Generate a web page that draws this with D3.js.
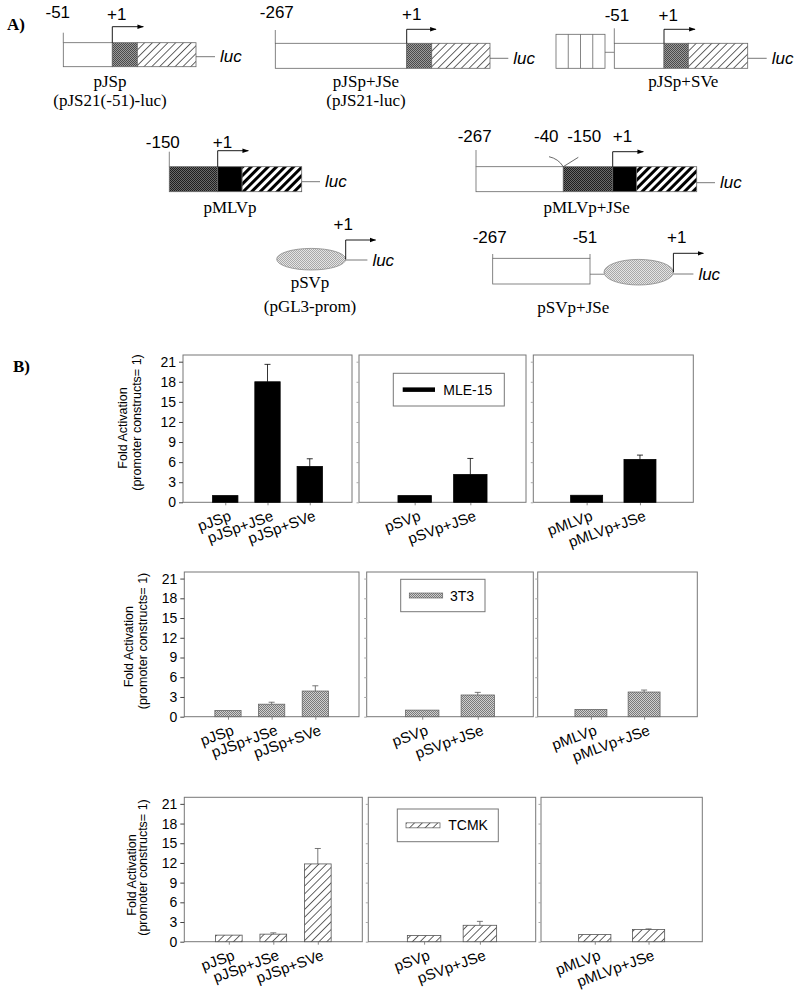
<!DOCTYPE html>
<html>
<head>
<meta charset="utf-8">
<script src="https://cdn.jsdelivr.net/npm/d3@7"></script>
<style>
  body { margin: 0; background: #fff; }
</style>
</head>
<body>
<div id="fig"></div>
<script>
// fold activation values (promoter construct = 1)
const cellLines = ["MLE-15", "3T3", "TCMK"];
const groups = [
  ["pJSp", "pJSp+JSe", "pJSp+SVe"],
  ["pSVp", "pSVp+JSe"],
  ["pMLVp", "pMLVp+JSe"]
];
const mle15    = [[1.0, 18.0, 5.35], [1.0, 4.15], [1.05, 6.4]];
const mle15Err = [[0, 2.6, 1.15], [0, 2.4], [0, 0.65]];
const t3t3     = [[0.95, 1.9, 3.9], [1.0, 3.3], [1.1, 3.75]];
const t3t3Err  = [[0, 0.3, 0.8], [0, 0.4], [0, 0.3]];
const tcmk     = [[1.0, 1.15, 11.85], [0.95, 2.5], [1.1, 1.85]];
const tcmkErr  = [[0, 0.2, 2.35], [0, 0.6], [0, 0.1]];
const yTicks = [0, 3, 6, 9, 12, 15, 18, 21];

const sans = "'Liberation Sans', Arial, sans-serif";
const serif = "'Liberation Serif', 'Times New Roman', serif";

const svg = d3.select("#fig").append("svg")
  .attr("width", 800).attr("height", 996)
  .style("font-family", sans);

// fill patterns
const defs = svg.append("defs");
function checker(id, light, dark) {
  const p = defs.append("pattern").attr("id", id)
    .attr("patternUnits", "userSpaceOnUse").attr("width", 2).attr("height", 2);
  p.append("rect").attr("width", 2).attr("height", 2).attr("fill", light);
  p.append("rect").attr("width", 1).attr("height", 1).attr("fill", dark);
  p.append("rect").attr("x", 1).attr("y", 1).attr("width", 1).attr("height", 1).attr("fill", dark);
}
checker("st3t3", "#cfcfcf", "#7a7a7a");
checker("stEll", "#e4e4e4", "#a8a8a8");
checker("stMid", "#9a9a9a", "#4a4a4a");
checker("stDark", "#6a6a6a", "#1e1e1e");
function stripes(id, period, lineW, color) {
  const p = defs.append("pattern").attr("id", id)
    .attr("patternUnits", "userSpaceOnUse")
    .attr("width", period).attr("height", period)
    .attr("patternTransform", "rotate(45)");
  p.append("rect").attr("width", period).attr("height", period).attr("fill", "#fff");
  p.append("rect").attr("width", lineW).attr("height", period).attr("fill", color);
}
stripes("hatch", 5.5, 0.9, "#555");
stripes("bold", 6, 3, "#000");

defs.append("marker").attr("id", "arr")
  .attr("viewBox", "0 0 10 10").attr("refX", 9).attr("refY", 5)
  .attr("markerWidth", 6.5).attr("markerHeight", 6.5)
  .attr("markerUnits", "userSpaceOnUse").attr("orient", "auto")
  .append("path").attr("d", "M0,1.5 L10,5 L0,8.5 Z").attr("fill", "#000");

// ---------- A) construct schematics ----------
svg.append("text").attr("x", 7).attr("y", 30)
  .style("font-family", serif).style("font-weight", "bold").style("font-size", "17px").text("A)");

const constructs = [
  {x: 63.3, y: 42.7, h: 24, segs: [["#fff", 49], ["url(#stMid)", 25], ["url(#hatch)", 58.7]],
   ticks: [{at: 0, top: 32.7, label: "-51", dx: -5.5, ly: 18}],
   arrow: {at: 49, top: 26.7, len: 31, dx: 4.4, ly: 20},
   luc: {len: 19, dy: 14}, name: ["pJSp", "(pJS21(-51)-luc)"], nx: 110, ny: 87},
  {x: 275.3, y: 43.3, h: 25, segs: [["#fff", 131.4], ["url(#stMid)", 25], ["url(#hatch)", 58.3]],
   ticks: [{at: 0, top: 30, label: "-267", dx: 1.5, ly: 18}],
   arrow: {at: 131.4, top: 29.3, len: 29.3, dx: 5, ly: 20},
   luc: {len: 18.3, dy: 15}, name: ["pJSp+JSe", "(pJS21-luc)"], nx: 366, ny: 87},
  {x: 614.3, y: 43.3, h: 25, segs: [["#fff", 49.7], ["url(#stMid)", 24.3], ["url(#hatch)", 59.4]],
   ticks: [{at: 0, top: 28.3, label: "-51", dx: 2.7, ly: 21}],
   arrow: {at: 49.7, top: 29.3, len: 31, dx: 4.3, ly: 21},
   luc: {len: 19, dy: 15}, name: ["pJSp+SVe"], nx: 683.3, ny: 87,
   sv: {x: 556, y: 34.3, w: 49, h: 34, n: 4, link: 52.3}},
  {x: 169.3, y: 166.7, h: 25, segs: [["url(#stDark)", 48.4], ["#000", 24.4], ["url(#bold)", 59.6]],
   ticks: [{at: 0, top: 151.7, label: "-150", dx: -6.5, ly: 148.3}],
   arrow: {at: 48.4, top: 150.7, len: 30.6, dx: 4.8, ly: 148.3},
   luc: {len: 18.3, dy: 15}, name: ["pMLVp"], nx: 230, ny: 213.3},
  {x: 476, y: 166.7, h: 25, segs: [["#fff", 87.3], ["url(#stDark)", 49.4], ["#000", 24], ["url(#bold)", 60]],
   ticks: [{at: 0, top: 150, label: "-267", dx: -1.3, ly: 141.7},
           {at: 87.3, label: "-40", dx: -17, ly: 141.7},
           {at: 87.3, label: "-150", dx: 20.9, ly: 141.7}],
   arrow: {at: 136.7, top: 151.7, len: 30.6, dx: 9.8, ly: 141.7},
   luc: {len: 18.3, dy: 16}, name: ["pMLVp+JSe"], nx: 586.7, ny: 213.3,
   joint: {dl: -14.3, dr: 15, up: 10}}
];

function drawConstruct(c) {
  const g = svg.append("g");
  if (c.sv) {
    const s = c.sv;
    const sx = d3.scaleLinear().domain([0, s.n]).range([s.x, s.x + s.w]);
    g.append("rect").attr("x", s.x).attr("y", s.y).attr("width", s.w).attr("height", s.h)
      .attr("fill", "#fff").attr("stroke", "#666").attr("stroke-width", 0.8);
    g.selectAll("line.sv").data(d3.range(1, s.n)).join("line")
      .attr("x1", d => sx(d)).attr("x2", d => sx(d))
      .attr("y1", s.y).attr("y2", s.y + s.h).attr("stroke", "#666").attr("stroke-width", 0.8);
    g.append("line").attr("x1", s.x + s.w).attr("x2", c.x).attr("y1", s.link).attr("y2", s.link)
      .attr("stroke", "#666").attr("stroke-width", 0.8);
  }
  let cx = c.x;
  c.segs.forEach(([fill, w]) => {
    g.append("rect").attr("x", cx).attr("y", c.y).attr("width", w).attr("height", c.h)
      .attr("fill", fill).attr("stroke", "#666").attr("stroke-width", 0.8);
    cx += w;
  });
  const right = cx;
  c.ticks.forEach(t => {
    if (t.top != null) {
      g.append("line").attr("x1", c.x + t.at).attr("x2", c.x + t.at)
        .attr("y1", t.top).attr("y2", c.y).attr("stroke", "#666").attr("stroke-width", 0.8);
    }
    g.append("text").attr("x", c.x + t.at + t.dx).attr("y", t.ly)
      .attr("text-anchor", "middle").style("font-size", "17px").text(t.label);
  });
  if (c.joint) {
    const jx = c.x + c.segs[0][1], j = c.joint;
    g.append("path")
      .attr("d", `M${jx + j.dl},${c.y - j.up} Q${jx - 5},${c.y - j.up + 2} ${jx},${c.y} L${jx + j.dr},${c.y - j.up + 0.6}`)
      .attr("fill", "none").attr("stroke", "#444").attr("stroke-width", 0.8);
  }
  const a = c.arrow, ax = c.x + a.at;
  g.append("path").attr("d", `M${ax},${c.y} V${a.top} H${ax + a.len}`)
    .attr("fill", "none").attr("stroke", "#000").attr("stroke-width", 0.9)
    .attr("marker-end", "url(#arr)");
  g.append("text").attr("x", ax + a.dx).attr("y", a.ly)
    .attr("text-anchor", "middle").style("font-size", "17px").text("+1");
  g.append("line").attr("x1", right).attr("x2", right + c.luc.len)
    .attr("y1", c.y + c.luc.dy).attr("y2", c.y + c.luc.dy)
    .attr("stroke", "#555").attr("stroke-width", 0.8);
  g.append("text").attr("x", right + c.luc.len + 5).attr("y", c.y + c.luc.dy + 5.5)
    .style("font-size", "17px").style("font-style", "italic").text("luc");
  c.name.forEach((n, i) => {
    g.append("text").attr("x", c.nx).attr("y", c.ny + i * 19)
      .attr("text-anchor", "middle").style("font-family", serif).style("font-size", "17px").text(n);
  });
}
constructs.forEach(drawConstruct);

// SV40 promoter constructs (ellipse)
const svConstructs = [
  {cx: 311.2, cy: 259.2, rx: 34.5, ry: 10.8, arrowTop: 240, arrowLen: 30, lucLen: 21.7, lucY: 260,
   plusX: 343.3, plusY: 230, name: ["pSVp", "(pGL3-prom)"], nx: 310, ny: 288.3},
  {cx: 638.7, cy: 272.2, rx: 34.7, ry: 12.8, arrowTop: 253.3, arrowLen: 30, lucLen: 20, lucY: 274,
   plusX: 676.7, plusY: 243.3, name: ["pSVp+JSe"], nx: 573.3, ny: 313.3,
   box: {x: 492.7, y: 258.3, w: 97.3, h: 25.7, tickTop: 254, labels: ["-267", "-51"], ly: 243.3}}
];
svConstructs.forEach(c => {
  const g = svg.append("g");
  if (c.box) {
    const b = c.box;
    g.append("rect").attr("x", b.x).attr("y", b.y).attr("width", b.w).attr("height", b.h)
      .attr("fill", "#fff").attr("stroke", "#666").attr("stroke-width", 0.8);
    [b.x, b.x + b.w].forEach((tx, i) => {
      g.append("line").attr("x1", tx).attr("x2", tx).attr("y1", b.tickTop).attr("y2", b.y)
        .attr("stroke", "#666").attr("stroke-width", 0.8);
      g.append("text").attr("x", tx - 3 + i * -2).attr("y", b.ly).attr("text-anchor", "middle")
        .style("font-size", "17px").text(b.labels[i]);
    });
    g.append("line").attr("x1", b.x + b.w).attr("x2", c.cx - c.rx)
      .attr("y1", b.y + b.h * 0.62).attr("y2", b.y + b.h * 0.62)
      .attr("stroke", "#666").attr("stroke-width", 0.8);
  }
  g.append("ellipse").attr("cx", c.cx).attr("cy", c.cy).attr("rx", c.rx).attr("ry", c.ry)
    .attr("fill", "url(#stEll)").attr("stroke", "#888").attr("stroke-width", 0.8);
  const ex = c.cx + c.rx;
  g.append("path").attr("d", `M${ex},${c.cy} V${c.arrowTop} H${ex + c.arrowLen}`)
    .attr("fill", "none").attr("stroke", "#000").attr("stroke-width", 0.9)
    .attr("marker-end", "url(#arr)");
  g.append("text").attr("x", c.plusX).attr("y", c.plusY).attr("text-anchor", "middle")
    .style("font-size", "17px").text("+1");
  g.append("line").attr("x1", ex).attr("x2", ex + c.lucLen).attr("y1", c.lucY).attr("y2", c.lucY)
    .attr("stroke", "#555").attr("stroke-width", 0.8);
  g.append("text").attr("x", ex + c.lucLen + 5).attr("y", c.lucY + 5.5)
    .style("font-size", "17px").style("font-style", "italic").text("luc");
  c.name.forEach((n, i) => {
    g.append("text").attr("x", c.nx).attr("y", c.ny + i * 23.4)
      .attr("text-anchor", "middle").style("font-family", serif).style("font-size", "17px").text(n);
  });
});

// ---------- B) bar charts ----------
svg.append("text").attr("x", 13).attr("y", 372)
  .style("font-family", serif).style("font-weight", "bold").style("font-size", "17px").text("B)");

const rows = [
  {values: mle15, err: mle15Err, fill: "#000", stroke: "#000", errColor: "#000",
   top: 355, bottom: 502.3, panels: [[183, 352], [359, 526], [533.3, 693.3]],
   legend: {x: 393.3, y: 373.3, w: 111, h: 32.7, sx: 9.4, sw: 32.3, sh: 4.5, tx: 50},
   lab: [127, 141], labC: [428, 422.5]},
  {values: t3t3, err: t3t3Err, fill: "url(#st3t3)", stroke: "#666", errColor: "#555",
   top: 572, bottom: 716.7, panels: [[184.3, 359], [366.7, 533.3], [537.7, 697.3]],
   legend: {x: 400.7, y: 579.3, w: 84.3, h: 32.4, sx: 8.6, sw: 33.4, sh: 5, tx: 49.3},
   lab: [133, 146.5], labC: [646.7, 641]},
  {values: tcmk, err: tcmkErr, fill: "url(#hatch)", stroke: "#555", errColor: "#555",
   top: 797.3, bottom: 941.7, panels: [[184.3, 362.3], [368.3, 535.7], [541, 702.3]],
   legend: {x: 397.3, y: 809, w: 101, h: 32.7, sx: 8.7, sw: 34, sh: 5, tx: 51},
   lab: [135.5, 147], labC: [875, 867.5]}
];

rows.forEach((row, r) => {
  const y = d3.scaleLinear().domain([0, 22]).range([row.bottom, row.top]);

  row.panels.forEach((px, p) => {
    const names = groups[p];
    const x = d3.scalePoint().domain(names).range(px).padding(1);
    const bw = x.step() * 0.6;
    const g = svg.append("g");

    g.append("rect").attr("x", px[0]).attr("y", row.top)
      .attr("width", px[1] - px[0]).attr("height", row.bottom - row.top)
      .attr("fill", "none").attr("stroke", "#777").attr("stroke-width", 1);

    const yAxis = g.append("g").attr("transform", `translate(${px[0]},0)`)
      .call(d3.axisLeft(y).tickValues(yTicks)
        .tickSize(p === 0 ? 4 : 2.5).tickPadding(3)
        .tickFormat(p === 0 ? d3.format("d") : ""));
    yAxis.select(".domain").remove();
    yAxis.selectAll(".tick line").attr("stroke", p === 0 ? "#444" : "#aaa");
    yAxis.selectAll(".tick text").style("font-size", "14px").style("font-family", sans).attr("fill", "#000");

    const xAxis = g.append("g").attr("transform", `translate(0,${row.bottom})`)
      .call(d3.axisBottom(x).tickSize(3).tickFormat(""));
    xAxis.select(".domain").remove();
    xAxis.selectAll(".tick line").attr("stroke", "#888");

    const data = names.map((n, i) => ({name: n, v: row.values[p][i], e: row.err[p][i]}));

    g.selectAll("rect.bar").data(data).join("rect").attr("class", "bar")
      .attr("x", d => x(d.name) - bw / 2).attr("width", bw)
      .attr("y", d => y(d.v)).attr("height", d => y(0) - y(d.v))
      .attr("fill", row.fill).attr("stroke", row.stroke).attr("stroke-width", 0.8);

    const eb = data.filter(d => d.e > 0);
    g.selectAll("line.err").data(eb).join("line").attr("class", "err")
      .attr("x1", d => x(d.name)).attr("x2", d => x(d.name))
      .attr("y1", d => y(d.v)).attr("y2", d => y(d.v + d.e))
      .attr("stroke", row.errColor).attr("stroke-width", 0.8);
    g.selectAll("line.cap").data(eb).join("line").attr("class", "cap")
      .attr("x1", d => x(d.name) - 3).attr("x2", d => x(d.name) + 3)
      .attr("y1", d => y(d.v + d.e)).attr("y2", d => y(d.v + d.e))
      .attr("stroke", row.errColor).attr("stroke-width", 0.8);

    g.selectAll("text.xl").data(names).join("text").attr("class", "xl")
      .attr("transform", d => `translate(${x(d) + 3},${row.bottom + 7}) rotate(-20)`)
      .attr("text-anchor", "end").attr("dy", "0.75em")
      .style("font-size", "15px").text(d => d);

    if (p === 1) {
      const L = row.legend;
      g.append("rect").attr("x", L.x).attr("y", L.y).attr("width", L.w).attr("height", L.h)
        .attr("fill", "#fff").attr("stroke", "#777").attr("stroke-width", 1);
      g.append("rect").attr("x", L.x + L.sx).attr("y", L.y + L.h / 2 - L.sh / 2)
        .attr("width", L.sw).attr("height", L.sh)
        .attr("fill", row.fill).attr("stroke", r === 0 ? "none" : row.stroke).attr("stroke-width", 0.7);
      g.append("text").attr("x", L.x + L.tx).attr("y", L.y + L.h / 2 + 5)
        .style("font-size", "14px").text(cellLines[r]);
    }
  });

  // y axis title
  ["Fold Activation", "(promoter constructs= 1)"].forEach((t, i) => {
    svg.append("text")
      .attr("transform", `translate(${row.lab[i]},${row.labC[i]}) rotate(-90)`)
      .attr("text-anchor", "middle").style("font-size", "12.5px").text(t);
  });
});
</script>
</body>
</html>
